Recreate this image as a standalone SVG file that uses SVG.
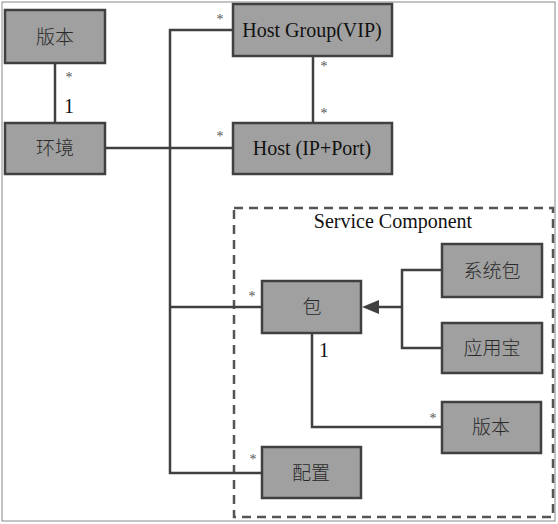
<svg xmlns="http://www.w3.org/2000/svg" width="558" height="524" viewBox="0 0 558 524">
<style>
.n{fill:#a0a0a0;stroke:#404040;stroke-width:2.5}
.t{font-family:"Liberation Serif","Noto Sans CJK SC",serif;font-size:20px;fill:#111;text-anchor:middle;dominant-baseline:central}
.c{font-family:"Noto Sans CJK SC",sans-serif;font-size:19px;font-weight:300;fill:#2a2a2a;text-anchor:middle;dominant-baseline:central}
.m{font-family:"Liberation Serif",serif;font-size:14px;fill:#555;text-anchor:middle}
.one{font-family:"Liberation Serif",serif;font-size:20px;fill:#111;text-anchor:middle}
.l{fill:none;stroke:#404040;stroke-width:2.5}
</style>
<rect x="2" y="2" width="553" height="519" fill="#fff" stroke="#888" stroke-width="1"/>
<rect id="service-component" x="234" y="208" width="319" height="309" fill="none" stroke="#555" stroke-width="2.5" stroke-dasharray="9,6"/>
<text class="t" x="393" y="221">Service Component</text>
<g id="connectors">
<path class="l" d="M55,63 V123"/>
<path class="l" d="M313,56 V123"/>
<path class="l" d="M233,30 H170 V473 H262"/>
<path class="l" d="M105,148 H233"/>
<path class="l" d="M170,307 H262"/>
<path class="l" d="M442,270 H402 V348 H442"/>
<path class="l" d="M402,307 H378"/>
<path d="M362,307 L379,300 L379,314 Z" fill="#404040"/>
<path class="l" d="M312,333 V427 H442"/>
</g>
<g id="labels">
<text class="m" x="69" y="82">*</text>
<text class="one" x="69" y="113">1</text>
<text class="m" x="220" y="24">*</text>
<text class="m" x="220" y="141">*</text>
<text class="m" x="324" y="71">*</text>
<text class="m" x="324" y="118">*</text>
<text class="m" x="252" y="301">*</text>
<text class="one" x="324" y="357">1</text>
<text class="m" x="433" y="423">*</text>
<text class="m" x="253" y="464">*</text>
</g>
<g id="banben1"><rect class="n" x="5" y="10" width="100" height="53"/><text class="c" x="55" y="35">版本</text></g>
<g id="huanjing"><rect class="n" x="5" y="123" width="100" height="51"/><text class="c" x="55" y="146">环境</text></g>
<g id="hostgroup"><rect class="n" x="233" y="4" width="159" height="52"/><text class="t" x="312" y="30">Host Group(VIP)</text></g>
<g id="host"><rect class="n" x="233" y="123" width="159" height="51"/><text class="t" x="312" y="148">Host (IP+Port)</text></g>
<g id="bao"><rect class="n" x="262" y="281" width="99" height="52"/><text class="c" x="312" y="305">包</text></g>
<g id="xitongbao"><rect class="n" x="442" y="244" width="100" height="53"/><text class="c" x="492" y="269">系统包</text></g>
<g id="yingyongbao"><rect class="n" x="442" y="323" width="100" height="50"/><text class="c" x="492" y="346">应用宝</text></g>
<g id="banben2"><rect class="n" x="442" y="402" width="99" height="51"/><text class="c" x="491" y="425">版本</text></g>
<g id="peizhi"><rect class="n" x="262" y="447" width="99" height="51"/><text class="c" x="311" y="471">配置</text></g>
</svg>
